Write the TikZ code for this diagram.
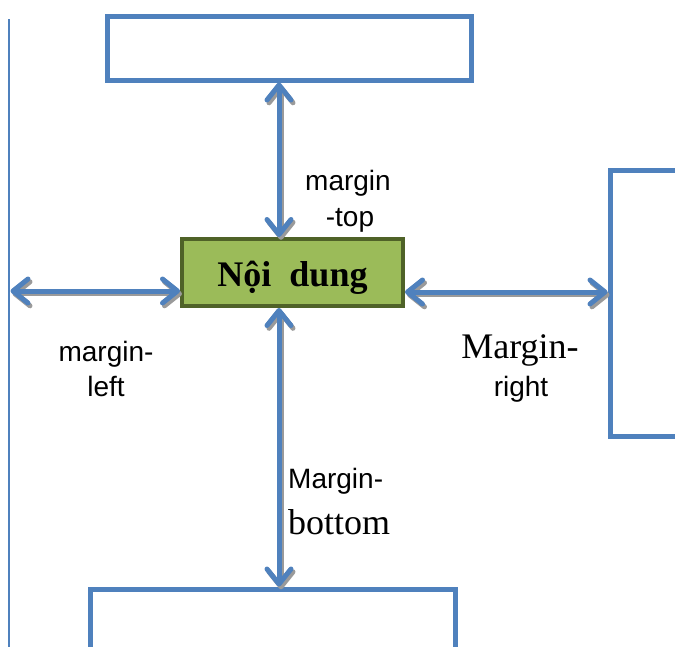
\documentclass[tikz,border=0pt]{standalone}
\usepackage{fontspec}
\setmainfont{Liberation Serif}
\newfontfamily\arialf{Liberation Sans}
\usetikzlibrary{arrows.meta}
\definecolor{mblue}{HTML}{4F81BD}
\definecolor{mgreen}{HTML}{9BBB59}
\definecolor{mdark}{HTML}{4F6228}
\definecolor{mshadow}{HTML}{9A9A9A}
\tikzset{
  frame/.style={draw=mblue, line width=5pt, rectangle, inner sep=0pt},
  contentbox/.style={draw=mdark, fill=mgreen, line width=4pt, rectangle, inner sep=0pt,
     minimum width=221pt, minimum height=67pt, font=\fontsize{36}{40}\selectfont\bfseries},
  arr/.style={draw=mblue, line width=5pt,
     {Straight Barb[length=15pt,width=24pt,round]}-{Straight Barb[length=15pt,width=24pt,round]}},
  arrshadow/.style={arr, draw=mshadow, transform canvas={shift={(2pt,-2.8pt)}}},
  sanslbl/.style={inner sep=0pt, font=\arialf\fontsize{28}{30}\selectfont},
  seriflbl/.style={inner sep=0pt, font=\fontsize{36}{40}\selectfont},
}
\begin{document}
\begin{tikzpicture}[x=1pt,y=-1pt]
\useasboundingbox (0,0) rectangle (675,646);
\clip (0,0) rectangle (675,646);
% boxes
\node[frame, minimum width=364pt, minimum height=64pt] (top) at (289,48) {};
\node[frame, minimum width=130pt, minimum height=266pt] (rightbox) at (675,303) {};
\node[frame, minimum width=365pt, minimum height=111pt] (bottombox) at (272.5,644.5) {};
\node[contentbox] (content) at (292.5,272.5) {\raisebox{-14pt}[0pt][0pt]{Nội~~dung}};
% left page edge
\coordinate (edgetop) at (9,19);
\coordinate (edgebot) at (9,650);
\draw[mblue, line width=2pt] (edgetop) -- (edgebot);
% guide coordinates
\coordinate (ax) at (279,0);
\coordinate (ayl) at (0,291);
\coordinate (ayr) at (0,292);
\coordinate (leftend) at (10.5,291);
% shadows
\draw[arrshadow] (top.south -| ax) -- (content.north -| ax);
\draw[arrshadow] (content.south -| ax) -- (bottombox.north -| ax);
\draw[arrshadow] (leftend) -- (content.west |- ayl);
\draw[arrshadow] (content.east |- ayr) -- (rightbox.west |- ayr);
% arrows
\draw[arr] (top.south -| ax) -- (content.north -| ax);
\draw[arr] (content.south -| ax) -- (bottombox.north -| ax);
\draw[arr] (leftend) -- (content.west |- ayl);
\draw[arr] (content.east |- ayr) -- (rightbox.west |- ayr);
% labels
\node[sanslbl, anchor=base] (mt1) at (348,190) {margin};
\node[sanslbl, anchor=base] (mt2) at (350,226) {-top};
\node[sanslbl, anchor=base] (ml1) at (106,361) {margin-};
\node[sanslbl, anchor=base] (ml2) at (106,396) {left};
\node[seriflbl, anchor=base] (mr1) at (520,358) {Margin-};
\node[sanslbl, anchor=base] (mr2) at (521,396) {right};
\node[sanslbl, anchor=base west] (mb1) at (288,488) {Margin-};
\node[seriflbl, anchor=base west] (mb2) at (288,534) {bottom};
\end{tikzpicture}
\end{document}
